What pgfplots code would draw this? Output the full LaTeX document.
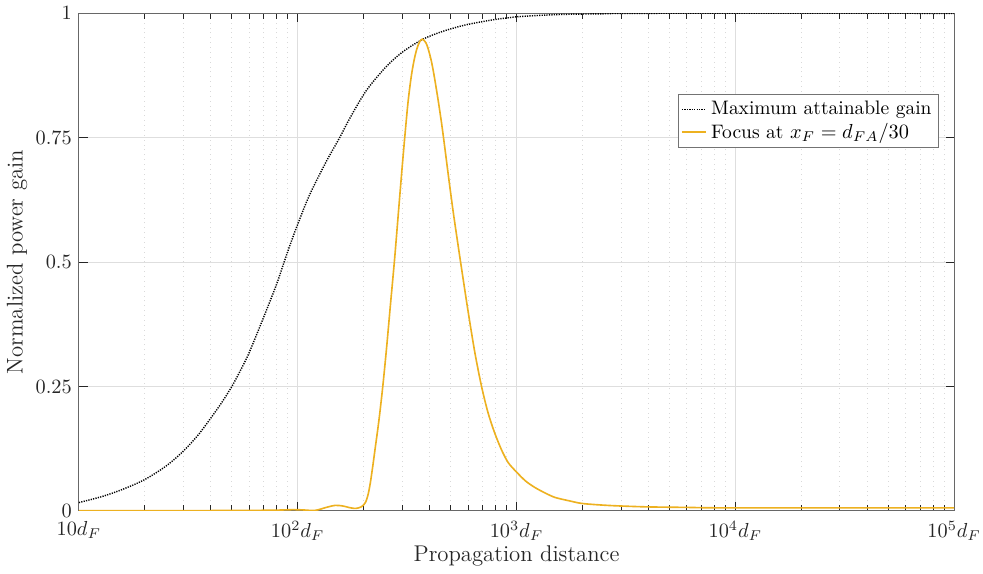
\documentclass[border=0pt]{standalone}
\usepackage{pgfplots}
\pgfplotsset{compat=1.18}
\definecolor{mlorange}{HTML}{EDB120}
\definecolor{axgray}{HTML}{262626}

\pgfplotstableread{
x y
10 0.0167
12.8 0.029
16 0.044
20 0.063
25 0.090
30 0.120
35 0.152
40 0.186
45 0.218
50 0.250
55 0.284
60 0.318
70 0.390
80 0.455
85 0.489
90 0.521
95 0.550
100 0.576
113 0.634
135 0.702
155 0.749
173 0.789
206 0.845
254 0.893
303 0.923
374 0.948
462 0.964
590 0.977
782 0.987
916 0.991
1000 0.993
1300 0.996
1700 0.998
2500 0.999
4000 1.0
100000 1.0
}\maxgain

\pgfplotstableread{
x y
10 0.0005
30 0.0005
60 0.001
80 0.0015
95 0.0025
105 0.002
120 0.001
135 0.007
148 0.011
160 0.010
175 0.006
185 0.005
195 0.008
200 0.012
205 0.019
210 0.034
215 0.058
220 0.088
225 0.120
235 0.182
245 0.252
255 0.330
265 0.412
277 0.505
290 0.612
300 0.690
308 0.748
319 0.820
330 0.872
340 0.905
350 0.928
360 0.942
371 0.948
385 0.941
395 0.928
408 0.904
420 0.875
438 0.826
455 0.777
470 0.730
490 0.668
513 0.602
540 0.535
562 0.484
601 0.400
645 0.318
692 0.250
740 0.198
794 0.157
855 0.122
916 0.097
1000 0.078
1100 0.060
1213 0.047
1350 0.036
1500 0.027
1750 0.020
1986 0.015
2400 0.012
2925 0.010
4000 0.008
6000 0.007
10000 0.006
100000 0.006
}\focus

\begin{document}
\begin{tikzpicture}
\begin{axis}[
  width=431pt, height=245pt, scale only axis,
  xmode=log, xmin=10, xmax=100000, ymin=0, ymax=1,
  xtick={10,100,1000,10000,100000},
  xticklabels={$10d_F$,$10^2d_F$,$10^3d_F$,$10^4d_F$,$10^5d_F$},
  ytick={0,0.25,0.5,0.75,1},
  xmajorgrids, ymajorgrids, xminorgrids,
  major grid style={color=black!13, line width=0.4pt},
  minor grid style={color=black!15, dotted, line width=0.4pt},
  axis line style={color=axgray!70, line width=0.5pt},
  every tick/.style={color=axgray, line width=0.4pt},
  tick label style={font=\fontsize{10}{12}\selectfont, color=axgray},
  xticklabel style={inner xsep=1pt, yshift=-1.5pt},
  label style={font=\fontsize{11.2}{13}\selectfont, color=axgray},
  xlabel={Propagation distance},
  ylabel={Normalized power gain},
  xlabel style={at={(axis description cs:0.5,-0.091)}, anchor=center},
  ylabel style={at={(axis description cs:-0.0707,0.5)}, anchor=center},
  legend style={at={(0.982,0.837)}, anchor=north east,
    font=\fontsize{9.6}{11}\selectfont, draw=black!55, fill=white,
    inner sep=1.2pt, row sep=-1.5pt},
  legend cell align=left,
  legend image code/.code={\draw[#1] (0cm,0cm) -- (0.42cm,0cm);},
]
\addplot[black, line width=0.7pt, dash pattern=on 0.6pt off 0.6pt, smooth] table {\maxgain};
\addplot[mlorange, line width=0.8pt, smooth] table {\focus};
\legend{Maximum attainable gain, Focus at $x_F = d_{FA}/30$}
\end{axis}
\end{tikzpicture}
\end{document}
